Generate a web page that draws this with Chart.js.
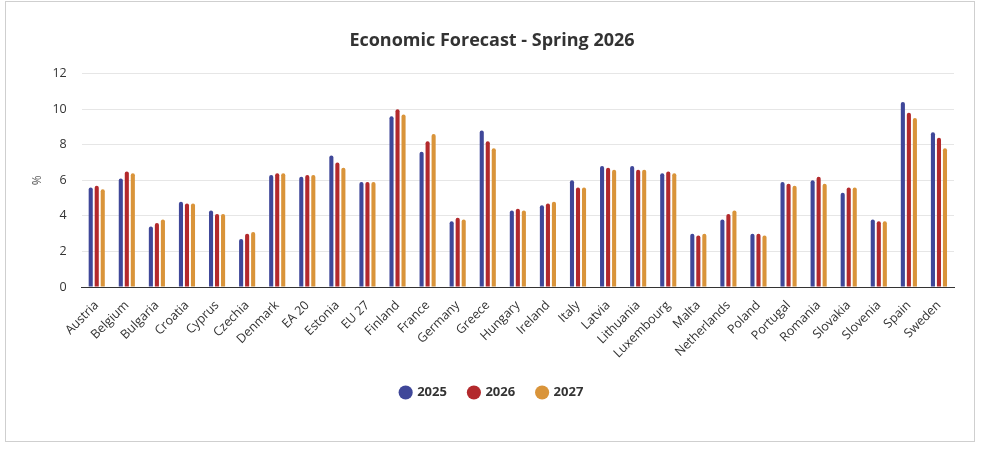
<!DOCTYPE html>
<html>
<head>
<meta charset="utf-8">
<script src="https://cdn.jsdelivr.net/npm/chart.js@4"></script>
<style>
  html, body { margin: 0; padding: 0; background: #fff; }
  #box { position: absolute; left: 5px; top: 1px; width: 968px; height: 439px; border: 1px solid #cfcfcf; }
  #chart { display: block; }
</style>
</head>
<body>
<div id="box"><canvas id="chart" width="968" height="439"></canvas></div>
<script>
// values
var countries = ['Austria', 'Belgium', 'Bulgaria', 'Croatia', 'Cyprus', 'Czechia', 'Denmark', 'EA 20',
  'Estonia', 'EU 27', 'Finland', 'France', 'Germany', 'Greece', 'Hungary', 'Ireland', 'Italy', 'Latvia',
  'Lithuania', 'Luxembourg', 'Malta', 'Netherlands', 'Poland', 'Portugal', 'Romania', 'Slovakia',
  'Slovenia', 'Spain', 'Sweden'];

var y2025 = [5.6, 6.1, 3.4, 4.8, 4.3, 2.7, 6.3, 6.2, 7.4, 5.9, 9.6, 7.6, 3.7, 8.8, 4.3, 4.6, 6.0, 6.8,
  6.8, 6.4, 3.0, 3.8, 3.0, 5.9, 6.0, 5.3, 3.8, 10.4, 8.7];
var y2026 = [5.7, 6.5, 3.6, 4.7, 4.1, 3.0, 6.4, 6.3, 7.0, 5.9, 10.0, 8.2, 3.9, 8.2, 4.4, 4.7, 5.6, 6.7,
  6.6, 6.5, 2.9, 4.1, 3.0, 5.8, 6.2, 5.6, 3.7, 9.8, 8.4];
var y2027 = [5.5, 6.4, 3.8, 4.7, 4.1, 3.1, 6.4, 6.3, 6.7, 5.9, 9.7, 8.6, 3.8, 7.8, 4.3, 4.8, 5.6, 6.6,
  6.6, 6.4, 3.0, 4.3, 2.9, 5.7, 5.8, 5.6, 3.7, 9.5, 7.8];

var yTicks = [0, 2, 4, 6, 8, 10, 12];

var blue = '#3f4799';
var red = '#b3292c';
var orange = '#d9943a';

function makeSet(label, data, color) {
  return {
    label: label,
    data: data,
    backgroundColor: color,
    borderColor: color,
    borderWidth: 0,
    borderRadius: { topLeft: 2, topRight: 2 },
    borderSkipped: 'bottom',
    categoryPercentage: 0.6,
    barPercentage: 0.68
  };
}

var ctx = document.getElementById('chart').getContext('2d');
new Chart(ctx, {
  type: 'bar',
  data: {
    labels: countries,
    datasets: [
      makeSet('2025', y2025, blue),
      makeSet('2026', y2026, red),
      makeSet('2027', y2027, orange)
    ]
  },
  options: {
    responsive: false,
    animation: false,
    layout: { padding: { left: 24, right: 20, top: 20, bottom: 32 } },
    plugins: {
      title: {
        display: true,
        text: 'Economic Forecast - Spring 2026',
        color: '#333',
        font: { family: 'Open Sans', size: 18, weight: 'bold' },
        padding: { top: 8, bottom: 22 }
      },
      legend: {
        position: 'bottom',
        labels: {
          usePointStyle: true,
          pointStyle: 'circle',
          boxWidth: 10,
          boxHeight: 10,
          padding: 22,
          color: '#333',
          font: { family: 'Open Sans', size: 13, weight: 'bold' }
        }
      },
      tooltip: { enabled: false }
    },
    scales: {
      x: {
        grid: { display: false },
        border: { color: '#333', width: 1 },
        ticks: {
          autoSkip: false,
          minRotation: 45,
          maxRotation: 45,
          color: '#333',
          font: { family: 'Open Sans', size: 12.5 }
        }
      },
      y: {
        min: 0,
        max: 12,
        afterBuildTicks: function (axis) {
          axis.ticks = yTicks.map(function (v) { return { value: v }; });
        },
        border: { display: false },
        grid: { color: '#e6e6e6', drawTicks: false },
        title: {
          display: true,
          text: '%',
          color: '#555',
          padding: { top: 0, bottom: -7 },
          font: { family: 'Open Sans', size: 12 }
        },
        ticks: {
          color: '#333',
          padding: 15,
          font: { family: 'Open Sans', size: 12.5 }
        }
      }
    }
  }
});
</script>
</body>
</html>
